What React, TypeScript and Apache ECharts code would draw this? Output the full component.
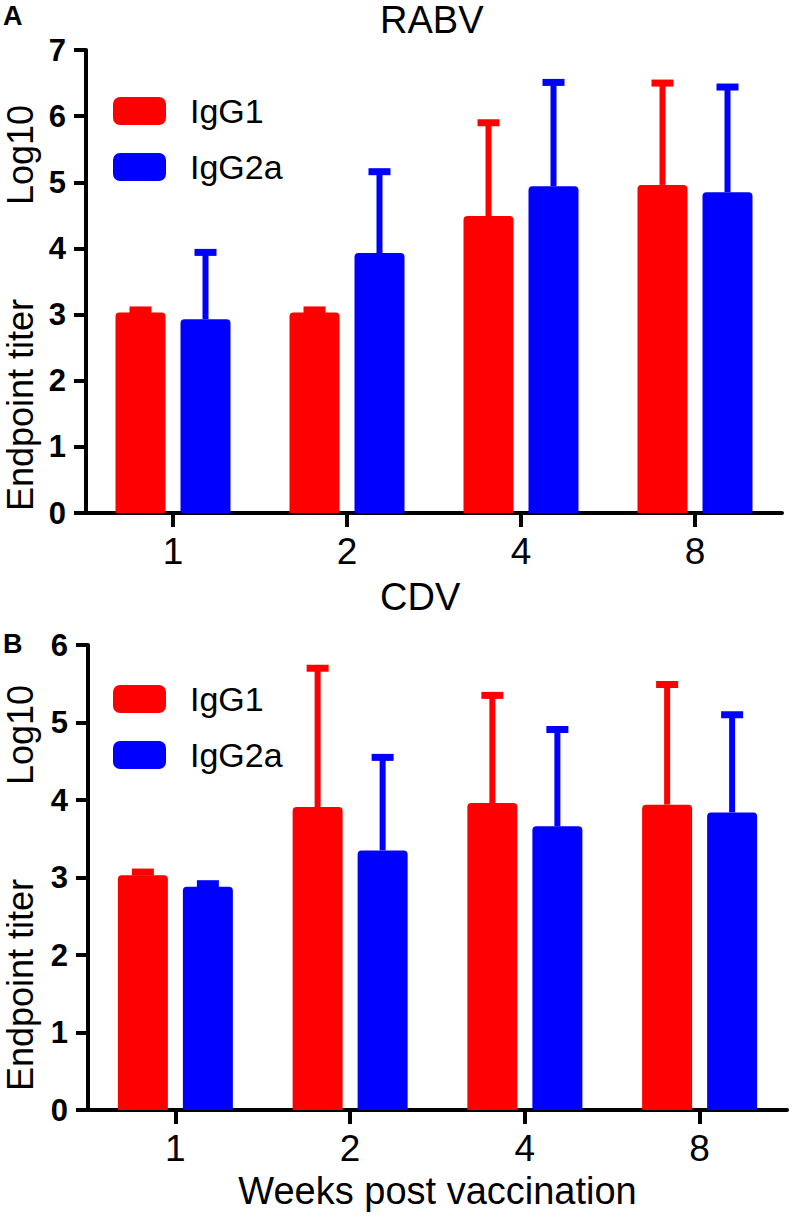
import React, { useEffect, useRef } from "react";
import * as echarts from "echarts";

const weeks = ["1", "2", "4", "8"];
const rabvIgG1 = [3.03, 3.03, 4.49, 4.96];
const rabvIgG1Err = [3.07, 3.07, 5.9, 6.5];
const rabvIgG2a = [2.93, 3.93, 4.94, 4.85];
const rabvIgG2aErr = [3.94, 5.16, 6.51, 6.44];
const cdvIgG1 = [3.03, 3.91, 3.96, 3.94];
const cdvIgG1Err = [3.07, 5.7, 5.35, 5.49];
const cdvIgG2a = [2.88, 3.35, 3.66, 3.84];
const cdvIgG2aErr = [2.92, 4.55, 4.91, 5.1];
const rabvTicks = [0, 1, 2, 3, 4, 5, 6, 7];
const cdvTicks = [0, 1, 2, 3, 4, 5, 6];

const RED = "#ff0000";
const BLUE = "#0000ff";
const FONT = "'Liberation Sans', Arial, sans-serif";
const BAR_W = 50;
const BAR_GAP = 15;
const OFFSET = (BAR_W + BAR_GAP) / 2;

function errSeries(name: string, idx: number, vals: number[], errs: number[], color: string, dx: number) {
  return {
    type: "custom",
    name: name + " err",
    xAxisIndex: idx,
    yAxisIndex: idx,
    z: 1,
    silent: true,
    data: vals.map((v, i) => [i, v, errs[i]]),
    renderItem: (params: any, api: any) => {
      const base = api.coord([api.value(0), api.value(1)]);
      const top = api.coord([api.value(0), api.value(2)]);
      const x = base[0] + dx;
      return {
        type: "group",
        children: [
          { type: "rect", shape: { x: x - 3, y: top[1], width: 6, height: Math.max(0, base[1] - top[1]) }, style: { fill: color } },
          { type: "rect", shape: { x: x - 11, y: top[1] - 3.5, width: 22, height: 7 }, style: { fill: color } },
        ],
      };
    },
  };
}

function barSeries(name: string, idx: number, vals: number[], color: string) {
  return {
    type: "bar",
    name,
    xAxisIndex: idx,
    yAxisIndex: idx,
    z: 2,
    barWidth: BAR_W,
    barGap: (BAR_GAP / BAR_W) * 100 + "%",
    itemStyle: { color, borderRadius: [4, 4, 0, 0] },
    data: vals,
  };
}

function yAxis(idx: number, ticks: number[]) {
  return {
    type: "value",
    gridIndex: idx,
    min: ticks[0],
    max: ticks[ticks.length - 1],
    interval: 1,
    splitLine: { show: false },
    axisLine: { show: true, lineStyle: { color: "#000", width: 4 } },
    axisTick: { show: true, length: 12, lineStyle: { color: "#000", width: 4 } },
    axisLabel: { color: "#000", fontSize: 31, fontWeight: "bold", fontFamily: FONT, margin: 20 },
  };
}

function xAxis(idx: number, name: string) {
  return {
    type: "category",
    gridIndex: idx,
    data: weeks,
    name,
    nameLocation: "middle",
    nameGap: 62,
    nameTextStyle: { color: "#000", fontSize: 38, fontFamily: FONT },
    axisLine: { show: true, onZero: false, lineStyle: { color: "#000", width: 4 } },
    axisTick: { show: true, alignWithLabel: true, length: 14, lineStyle: { color: "#000", width: 4 } },
    axisLabel: { color: "#000", fontSize: 37, fontFamily: FONT, margin: 20 },
  };
}

function legend(top: number) {
  return {
    orient: "vertical",
    left: 113,
    top,
    itemWidth: 53,
    itemHeight: 28,
    itemGap: 22,
    icon: "roundRect",
    padding: 0,
    data: ["IgG1", "IgG2a"],
    textStyle: { color: "#000", fontSize: 34, fontFamily: FONT, padding: [0, 0, 0, 19] },
  };
}

export default function App() {
  const ref = useRef<HTMLDivElement>(null);
  useEffect(() => {
    if (!ref.current) return;
    const chart = echarts.init(ref.current, null, { renderer: "svg" });
    const ytitle = (text: string, y: number) => ({
      type: "text",
      x: 20,
      y,
      rotation: Math.PI / 2,
      style: { text, fill: "#000", font: `36px ${FONT}`, textAlign: "center", textVerticalAlign: "middle" },
    });
    chart.setOption({
      animation: false,
      backgroundColor: "#fff",
      title: [
        { text: "RABV", left: 380, top: 1, padding: 0, textStyle: { color: "#000", fontSize: 38, fontWeight: "normal", fontFamily: FONT } },
        { text: "CDV", left: 380, top: 578, padding: 0, textStyle: { color: "#000", fontSize: 38, fontWeight: "normal", fontFamily: FONT } },
        { text: "A", left: 3, top: 2, padding: 0, textStyle: { color: "#000", fontSize: 27, fontWeight: "bold", fontFamily: FONT } },
        { text: "B", left: 3, top: 630, padding: 0, textStyle: { color: "#000", fontSize: 27, fontWeight: "bold", fontFamily: FONT } },
      ],
      legend: [legend(94), legend(682)],
      grid: [
        { left: 86, top: 50, width: 696, height: 463 },
        { left: 88, top: 645, width: 699, height: 465 },
      ],
      xAxis: [xAxis(0, ""), xAxis(1, "Weeks post vaccination")],
      yAxis: [yAxis(0, rabvTicks), yAxis(1, cdvTicks)],
      graphic: [
        ytitle("Endpoint titer", 405),
        ytitle("Log10", 155),
        ytitle("Endpoint titer", 985),
        ytitle("Log10", 735),
      ],
      series: [
        barSeries("IgG1", 0, rabvIgG1, RED),
        barSeries("IgG2a", 0, rabvIgG2a, BLUE),
        errSeries("IgG1", 0, rabvIgG1, rabvIgG1Err, RED, -OFFSET),
        errSeries("IgG2a", 0, rabvIgG2a, rabvIgG2aErr, BLUE, OFFSET),
        barSeries("IgG1", 1, cdvIgG1, RED),
        barSeries("IgG2a", 1, cdvIgG2a, BLUE),
        errSeries("IgG1", 1, cdvIgG1, cdvIgG1Err, RED, -OFFSET),
        errSeries("IgG2a", 1, cdvIgG2a, cdvIgG2aErr, BLUE, OFFSET),
      ],
    });
    return () => chart.dispose();
  }, []);
  return <div ref={ref} style={{ position: "absolute", left: 0, top: 0, width: 793, height: 1220 }} />;
}
